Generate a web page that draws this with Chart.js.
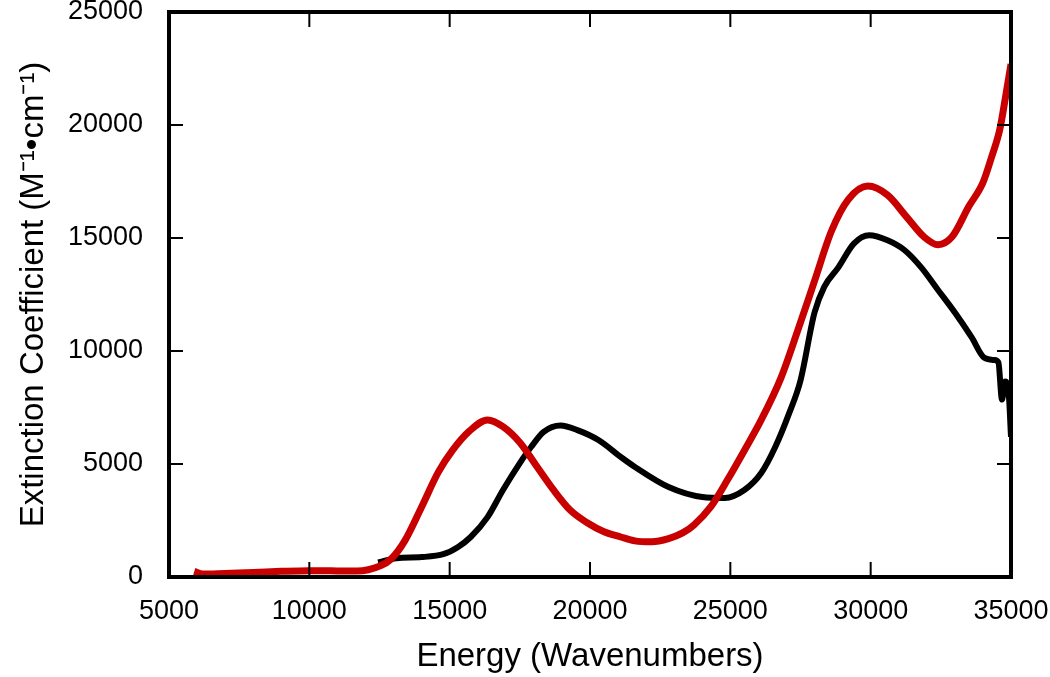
<!DOCTYPE html>
<html>
<head>
<meta charset="utf-8">
<script src="https://cdn.jsdelivr.net/npm/chart.js@4.4.1/dist/chart.umd.min.js"></script>
<style>
  html, body { margin: 0; padding: 0; background: #fff; }
  #wrap { width: 1050px; height: 677px; }
</style>
</head>
<body>
<div id="wrap"><canvas id="spectrum" width="1050" height="677"></canvas></div>
<script>
// Energy axis (wavenumbers) and extinction values
const redEnergy = [5900, 6200, 7000, 8000, 9000, 10000, 11000, 11700, 12100, 12500, 12900, 13400, 14000, 14600, 15100, 15700, 16350, 16900, 17500, 18100, 18700, 19300, 19900, 20500, 21100, 21600, 22200, 22800, 23300, 23700, 24300, 24900, 25500, 26100, 26800, 27400, 28000, 28600, 29200, 29900, 30600, 31300, 31900, 32400, 32900, 33500, 34000, 34300, 34600, 34800, 35000];
const redExt = [250, 130, 160, 200, 250, 280, 270, 260, 320, 480, 780, 1600, 3100, 4650, 5600, 6450, 6950, 6650, 5950, 4900, 3850, 2950, 2400, 2000, 1770, 1600, 1560, 1700, 1950, 2300, 3100, 4300, 5600, 6950, 8800, 10900, 13100, 15300, 16700, 17300, 16900, 15900, 15050, 14700, 15050, 16400, 17450, 18550, 19800, 21200, 22700];

const blackEnergy = [12450, 13100, 14000, 14800, 15300, 15750, 16350, 16900, 17500, 17900, 18350, 18950, 19550, 20300, 21100, 21600, 22800, 24000, 24800, 25500, 26100, 26600, 27100, 27500, 28000, 28350, 28850, 29400, 29950, 30600, 31200, 31800, 32400, 33000, 33600, 34050, 34400, 34550, 34680, 34790, 34920, 35000];
const blackExt = [650, 830, 880, 1020, 1330, 1770, 2650, 3850, 5040, 5750, 6420, 6700, 6500, 6060, 5310, 4870, 3980, 3540, 3500, 3850, 4600, 5750, 7260, 8700, 11700, 12850, 13700, 14750, 15120, 14900, 14470, 13700, 12700, 11700, 10600, 9700, 9600, 9500, 7850, 8650, 8100, 6200];

const xTicks = [5000, 10000, 15000, 20000, 25000, 30000, 35000];
const yTicks = [0, 5000, 10000, 15000, 20000, 25000];

const toPoints = (xs, ys) => xs.map((x, i) => ({ x: x, y: ys[i] }));

// frame + inward ticks on all four sides (gnuplot style)
const framePlugin = {
    id: 'frame',
    afterDatasetsDraw(chart) {
        const ctx = chart.ctx;
        const a = chart.chartArea;
        const xs = chart.scales.x, ys = chart.scales.y;
        ctx.save();
        ctx.strokeStyle = '#000';
        ctx.lineWidth = 2;
        ctx.beginPath();
        xTicks.forEach(v => {
            const px = xs.getPixelForValue(v);
            ctx.moveTo(px, a.bottom); ctx.lineTo(px, a.bottom - 15);
            ctx.moveTo(px, a.top); ctx.lineTo(px, a.top + 15);
        });
        yTicks.forEach(v => {
            const py = ys.getPixelForValue(v);
            ctx.moveTo(a.left, py); ctx.lineTo(a.left + 14, py);
            ctx.moveTo(a.right, py); ctx.lineTo(a.right - 14, py);
        });
        ctx.stroke();
        ctx.lineWidth = 4;
        ctx.strokeRect(a.left, a.top, a.right - a.left, a.bottom - a.top);
        ctx.restore();
    }
};

Chart.defaults.font.family = '"Liberation Sans", Arial, Helvetica, sans-serif';
Chart.defaults.color = '#000';

new Chart(document.getElementById('spectrum').getContext('2d'), {
    type: 'line',
    data: {
        datasets: [{
            label: 'red',
            data: toPoints(redEnergy, redExt),
            borderColor: '#c80000',
            borderWidth: 7,
            pointRadius: 0,
            cubicInterpolationMode: 'monotone',
            fill: false
        }, {
            label: 'black',
            data: toPoints(blackEnergy, blackExt),
            borderColor: '#000',
            borderWidth: 6,
            pointRadius: 0,
            cubicInterpolationMode: 'monotone',
            fill: false
        }]
    },
    options: {
        responsive: false,
        animation: false,
        layout: { padding: { left: 0, right: 39, top: 12, bottom: 0 } },
        plugins: { legend: { display: false }, tooltip: { enabled: false } },
        scales: {
            x: {
                type: 'linear',
                min: 5000,
                max: 35000,
                afterBuildTicks: s => { s.ticks = xTicks.map(v => ({ value: v })); },
                afterFit: s => { s.height = 100; s.paddingLeft = 0; s.paddingRight = 0; },
                grid: { display: false },
                border: { display: false },
                ticks: { font: { size: 27 }, padding: 10, maxRotation: 0, autoSkip: false, callback: v => String(v) },
                title: { display: true, text: 'Energy (Wavenumbers)', font: { size: 33 }, padding: { top: -3, bottom: 0 } }
            },
            y: {
                type: 'linear',
                min: 0,
                max: 25000,
                afterBuildTicks: s => { s.ticks = yTicks.map(v => ({ value: v })); },
                afterFit: s => { s.width = 169; s.paddingTop = 0; s.paddingBottom = 0; },
                grid: { display: false },
                border: { display: false },
                ticks: { font: { size: 27 }, padding: 18, autoSkip: false, callback: v => String(v) },
                title: { display: true, text: 'Extinction Coefficient (M\u207B\u00B9\u2022cm\u207B\u00B9)', font: { size: 33 }, padding: { top: 14, bottom: 0 } }
            }
        }
    },
    plugins: [framePlugin]
});
</script>
</body>
</html>
